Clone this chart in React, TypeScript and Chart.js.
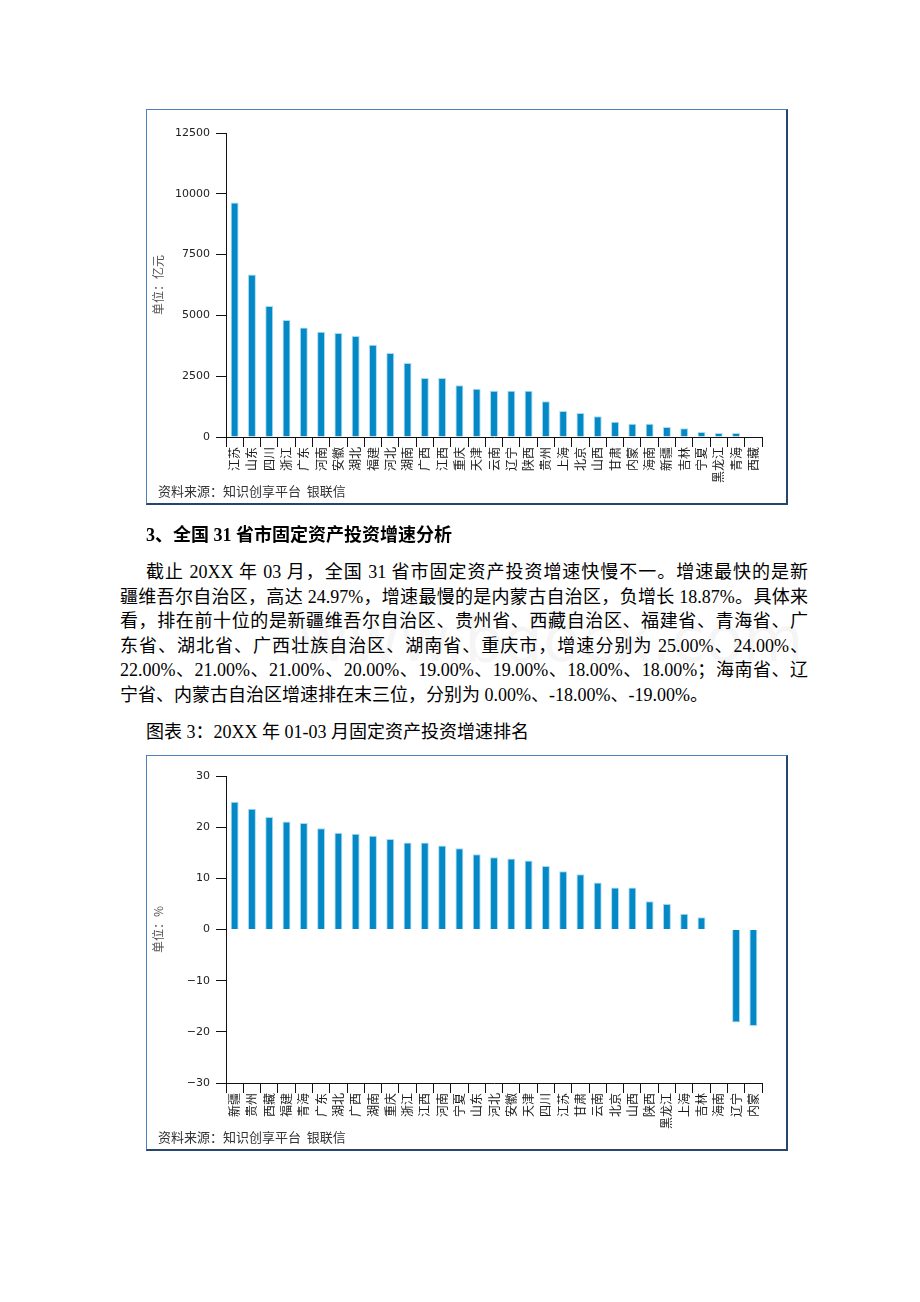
import React, { useEffect, useRef } from "react";
import { Chart, registerables } from "chart.js";

Chart.register(...registerables);

// ---- Chart 1: fixed-asset investment by province (亿元) ----
const investCategories = [
  "江苏", "山东", "四川", "浙江", "广东", "河南", "安徽", "湖北", "福建", "河北",
  "湖南", "广西", "江西", "重庆", "天津", "云南", "辽宁", "陕西", "贵州", "上海",
  "北京", "山西", "甘肃", "内蒙", "海南", "新疆", "吉林", "宁夏", "黑龙江", "青海", "西藏",
];
const investValues = [
  9644, 6685, 5384, 4808, 4507, 4329, 4274, 4151, 3795, 3452,
  3041, 2425, 2425, 2123, 1986, 1904, 1904, 1904, 1466, 1068,
  986, 849, 630, 548, 548, 411, 356, 205, 164, 164, 30,
];
const investAxis = { min: 0, max: 12500, step: 2500, unit: "单位：亿元" };

// ---- Chart 2: growth rate ranking (%) ----
const growthCategories = [
  "新疆", "贵州", "西藏", "福建", "青海", "广东", "湖北", "广西", "湖南", "重庆",
  "浙江", "江西", "河南", "宁夏", "山东", "河北", "安徽", "天津", "四川", "江苏",
  "甘肃", "云南", "北京", "山西", "陕西", "黑龙江", "上海", "吉林", "海南", "辽宁", "内蒙",
];
const growthValues = [
  24.97, 23.6, 22.0, 21.1, 20.8, 19.8, 18.9, 18.7, 18.3, 17.7,
  17.0, 17.0, 16.4, 15.9, 14.7, 14.1, 13.9, 13.5, 12.4, 11.4,
  10.8, 9.2, 8.2, 8.2, 5.5, 5.0, 3.1, 2.4, 0.1, -18.2, -18.87,
];
const growthAxis = { min: -30, max: 30, step: 10, unit: "单位：%" };

const sourceNote = "资料来源：知识创享平台  银联信";

const headingText = "3、全国 31 省市固定资产投资增速分析";
const paragraphLines = [
  "截止 20XX 年 03 月，全国 31 省市固定资产投资增速快慢不一。增速最快的是新",
  "疆维吾尔自治区，高达 24.97%，增速最慢的是内蒙古自治区，负增长 18.87%。具体来",
  "看，排在前十位的是新疆维吾尔自治区、贵州省、西藏自治区、福建省、青海省、广",
  "东省、湖北省、广西壮族自治区、湖南省、重庆市，增速分别为 25.00%、24.00%、",
  "22.00%、21.00%、21.00%、20.00%、19.00%、19.00%、18.00%、18.00%；海南省、辽",
  "宁省、内蒙古自治区增速排在末三位，分别为 0.00%、-18.00%、-19.00%。",
];
const captionText = "图表 3：20XX 年 01-03 月固定资产投资增速排名";
const watermarkText = "www.bdocx.com";

const CJK = '"Noto Sans CJK SC", "DejaVu Sans", sans-serif';
const TEXT_FONT = '"Liberation Serif", "Noto Sans CJK SC", serif';

type AxisDef = { min: number; max: number; step: number; unit: string };

function BarChart(props: {
  labels: string[];
  values: number[];
  axis: AxisDef;
  padTop: number;
  width: number;
  height: number;
}) {
  const ref = useRef<HTMLCanvasElement | null>(null);
  useEffect(() => {
    if (!ref.current) return;
    const { labels, values, axis, padTop, height } = props;
    const chart = new Chart(ref.current, {
      type: "bar",
      data: {
        labels,
        datasets: [
          {
            data: values,
            backgroundColor: "#0589c6",
            borderColor: "#a9dcf3",
            borderWidth: 1,
            categoryPercentage: 1,
            barPercentage: 0.46,
          },
        ],
      },
      options: {
        animation: false,
        responsive: false,
        maintainAspectRatio: false,
        layout: { padding: { left: 0, right: 24, top: padTop, bottom: 0 } },
        plugins: { legend: { display: false }, tooltip: { enabled: false } },
        scales: {
          x: {
            grid: {
              display: true,
              drawOnChartArea: false,
              drawTicks: true,
              tickLength: 10,
              color: "#111",
              offset: true,
            },
            border: { color: "#111", width: 1 },
            ticks: {
              autoSkip: false,
              maxRotation: 90,
              minRotation: 90,
              padding: 0,
              color: "#1a1a1a",
              font: { family: CJK, size: 12 },
            },
            afterFit: (s: any) => {
              s.height = height - 327;
            },
          },
          y: {
            min: axis.min,
            max: axis.max,
            ticks: {
              stepSize: axis.step,
              padding: 6,
              color: "#222",
              font: { family: '"DejaVu Sans", sans-serif', size: 11 },
              callback: (v: any) => String(v).replace("-", "−"),
            },
            grid: {
              drawOnChartArea: false,
              drawTicks: true,
              tickLength: 10,
              color: "#111",
            },
            border: { color: "#111", width: 1 },
            title: {
              display: true,
              text: axis.unit,
              color: "#555",
              font: { family: CJK, size: 12 },
              padding: { top: 4, bottom: 0 },
            },
            afterFit: (s: any) => {
              s.width = 79;
            },
          },
        },
      },
    } as any);
    return () => chart.destroy();
  }, []);
  return (
    <canvas
      ref={ref}
      width={props.width}
      height={props.height}
      style={{ position: "absolute", left: 0, top: 0, width: props.width, height: props.height }}
    />
  );
}

function ChartBox(props: {
  top: number;
  labels: string[];
  values: number[];
  axis: AxisDef;
  padTop: number;
}) {
  const W = 642;
  const H = 396;
  return (
    <div
      style={{
        position: "absolute",
        left: 138,
        top: props.top,
        width: W,
        height: H,
        boxSizing: "border-box",
        borderLeft: "1px solid #4f7fbd",
        borderTop: "1px solid #4f7fbd",
        borderRight: "2px solid #27466e",
        borderBottom: "2px solid #27466e",
        background: "#fff",
      }}
    >
      <BarChart
        labels={props.labels}
        values={props.values}
        axis={props.axis}
        padTop={props.padTop}
        width={W - 3}
        height={H - 3}
      />
      <div
        style={{
          position: "absolute",
          left: 11,
          top: 373,
          fontFamily: CJK,
          fontSize: 13,
          lineHeight: "16px",
          color: "#333",
          whiteSpace: "pre",
        }}
      >
        {sourceNote}
      </div>
    </div>
  );
}

export default function App() {
  return (
    <div style={{ position: "relative", width: 904, height: 1286, background: "#fff" }}>
      <ChartBox top={101} labels={investCategories} values={investValues} axis={investAxis} padTop={23} />

      <div
        style={{
          position: "absolute",
          left: 138,
          top: 513,
          fontFamily: TEXT_FONT,
          fontSize: 18,
          fontWeight: "bold",
          lineHeight: "29px",
          color: "#000",
          whiteSpace: "nowrap",
        }}
      >
        {headingText}
      </div>

      <div
        style={{
          position: "absolute",
          left: 290,
          top: 595,
          fontFamily: '"DejaVu Sans", sans-serif',
          fontSize: 62,
          color: "rgba(0,0,0,0.04)",
          whiteSpace: "nowrap",
          pointerEvents: "none",
        }}
      >
        {watermarkText}
      </div>

      <div
        style={{
          position: "absolute",
          left: 112,
          top: 552,
          width: 688,
          fontFamily: TEXT_FONT,
          fontSize: 18,
          lineHeight: "24.6px",
          color: "#000",
        }}
      >
        {paragraphLines.map((line, i) => {
          const last = i === paragraphLines.length - 1;
          return (
            <div
              key={i}
              style={{
                whiteSpace: "nowrap",
                textAlign: last ? "left" : "justify",
                textAlignLast: last ? "left" : "justify",
                paddingLeft: i === 0 ? 26 : 0,
              } as any}
            >
              {line}
            </div>
          );
        })}
      </div>

      <div
        style={{
          position: "absolute",
          left: 138,
          top: 710,
          fontFamily: TEXT_FONT,
          fontSize: 18,
          lineHeight: "29px",
          color: "#000",
          whiteSpace: "nowrap",
        }}
      >
        {captionText}
      </div>

      <ChartBox top={747} labels={growthCategories} values={growthValues} axis={growthAxis} padTop={20} />
    </div>
  );
}
